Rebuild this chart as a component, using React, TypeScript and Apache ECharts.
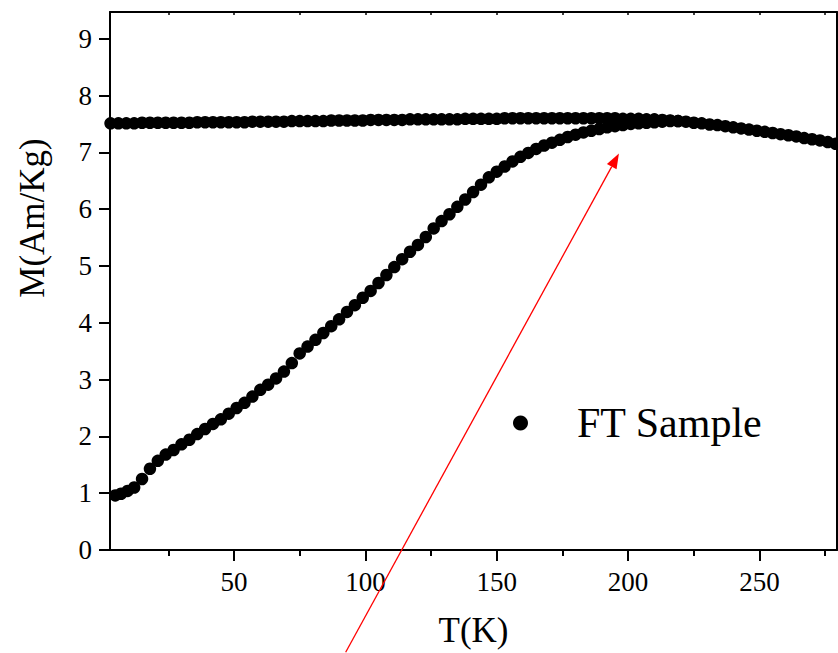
import React, { useEffect, useRef } from "react";
import * as echarts from "echarts";

// Temperature (K) of each point of the field-cooled curve
const fcTemps = [
  3, 6, 9, 12, 15, 18, 21, 24, 27, 30,
  33, 36, 39, 42, 45, 48, 51, 54, 57, 60,
  63, 66, 69, 72, 75, 78, 81, 84, 87, 90,
  93, 96, 99, 102, 105, 108, 111, 114, 117, 120,
  123, 126, 129, 132, 135, 138, 141, 144, 147, 150,
  153, 156, 159, 162, 165, 168, 171, 174, 177, 180,
  183, 186, 189, 192, 195, 198, 201, 204, 207, 210,
  213, 216, 219, 222, 225, 228, 231, 234, 237, 240,
  243, 246, 249, 252, 255, 258, 261, 264, 267, 270,
  273, 276, 279,
];
// Magnetisation (Am/Kg) of the field-cooled curve
const fcMoment = [
  7.51, 7.51, 7.51, 7.51, 7.52, 7.52, 7.52, 7.52, 7.52, 7.52,
  7.52, 7.53, 7.53, 7.53, 7.53, 7.53, 7.53, 7.53, 7.54, 7.54,
  7.54, 7.54, 7.54, 7.55, 7.55, 7.55, 7.55, 7.55, 7.56, 7.56,
  7.56, 7.56, 7.56, 7.57, 7.57, 7.57, 7.57, 7.57, 7.58, 7.58,
  7.58, 7.58, 7.58, 7.58, 7.58, 7.59, 7.59, 7.59, 7.59, 7.59,
  7.6, 7.6, 7.6, 7.6, 7.6, 7.6, 7.6, 7.6, 7.6, 7.6,
  7.6, 7.6, 7.6, 7.6, 7.6, 7.59, 7.59, 7.59, 7.58, 7.58,
  7.57, 7.56, 7.55, 7.54, 7.52, 7.51, 7.49, 7.48, 7.46, 7.44,
  7.42, 7.4, 7.38, 7.36, 7.34, 7.32, 7.3, 7.28, 7.25, 7.23,
  7.21, 7.18, 7.15,
];
// Temperature (K) of each point of the zero-field-cooled curve
const zfcTemps = [
  4.8, 7, 9.5, 12, 15, 18, 21, 24, 27, 30,
  33, 36, 39, 42, 45, 48, 51, 54, 57, 60,
  63, 66, 69, 72, 75, 78, 81, 84, 87, 90,
  93, 96, 99, 102, 105, 108, 111, 114, 117, 120,
  123, 126, 129, 132, 135, 138, 141, 144, 147, 150,
  153, 156, 159, 162, 165, 168, 171, 174, 177, 180,
  183, 186, 189, 192, 195, 198, 201, 204, 207, 210,
  213, 216, 219,
];
// Magnetisation (Am/Kg) of the zero-field-cooled curve
const zfcMoment = [
  0.96, 0.99, 1.04, 1.1, 1.25, 1.43, 1.57, 1.68, 1.76, 1.86,
  1.94, 2.04, 2.13, 2.22, 2.3, 2.4, 2.5, 2.59, 2.7, 2.82,
  2.91, 3.02, 3.14, 3.29, 3.46, 3.58, 3.7, 3.82, 3.94, 4.06,
  4.19, 4.31, 4.44, 4.56, 4.7, 4.84, 4.98, 5.12, 5.25, 5.37,
  5.51, 5.66, 5.79, 5.91, 6.04, 6.17, 6.3, 6.43, 6.56, 6.66,
  6.75, 6.84, 6.92, 6.99, 7.06, 7.12, 7.17, 7.22, 7.27, 7.31,
  7.35, 7.38, 7.41, 7.44, 7.46, 7.48, 7.5, 7.51, 7.52, 7.53,
  7.54, 7.55, 7.55,
];

const xMajorTicks = [50, 100, 150, 200, 250];
const xMinorTicks = [25, 75, 125, 175, 225, 275];
const xTopTicks = [25, 50, 75, 100, 125, 150, 175, 200, 225, 250, 275];
const yTicks = [0, 1, 2, 3, 4, 5, 6, 7, 8, 9];

const seriesName = "FT Sample";
const xAxisTitle = "T(K)";
const yAxisTitle = "M(Am/Kg)";

// Annotation arrow, in data coordinates (T, M)
const arrowFrom = [92.5, -1.8];
const arrowTo = [196.5, 6.98];

const X_MIN = 2.8;
const X_MAX = 279.5;
const Y_MIN = 0;
const Y_MAX = 9.47;

export default function App() {
  const ref = useRef<HTMLDivElement>(null);

  useEffect(() => {
    document.body.style.margin = "0";
    const chart = echarts.init(ref.current!, null, { renderer: "svg" });
    const font = "'Liberation Serif', 'Times New Roman', serif";
    const pair = (t: number[], m: number[]) => t.map((v, i) => [v, m[i]]);
    const black = "#000";

    chart.setOption({
      animation: false,
      grid: { left: 110, right: 1, top: 12, bottom: 102 },
      legend: {
        data: [{ name: seriesName, icon: "circle" }],
        left: 508,
        top: 397,
        itemWidth: 15,
        itemHeight: 15,
        textStyle: {
          fontSize: 42,
          fontFamily: font,
          color: black,
          padding: [0, 0, 0, 44],
        },
      },
      xAxis: [
        {
          type: "value",
          min: X_MIN,
          max: X_MAX,
          position: "bottom",
          axisLine: { show: true, onZero: false, lineStyle: { color: black, width: 2 } },
          axisTick: {
            show: true,
            length: 11,
            lineStyle: { color: black, width: 2 },
            customValues: xMajorTicks,
          },
          axisLabel: {
            customValues: xMajorTicks,
            margin: 18,
            fontSize: 27,
            fontFamily: font,
            color: black,
          },
          splitLine: { show: false },
          name: xAxisTitle,
          nameLocation: "middle",
          nameGap: 63,
          nameTextStyle: { fontSize: 35, fontFamily: font, color: black, lineHeight: 35 },
        },
        {
          type: "value",
          min: X_MIN,
          max: X_MAX,
          position: "bottom",
          offset: 0,
          axisLine: { show: false, onZero: false },
          axisTick: {
            show: true,
            length: 6,
            lineStyle: { color: black, width: 2 },
            customValues: xMinorTicks,
          },
          axisLabel: { show: false },
          splitLine: { show: false },
        },
        {
          type: "value",
          min: X_MIN,
          max: X_MAX,
          position: "top",
          axisLine: { show: true, onZero: false, lineStyle: { color: black, width: 2 } },
          axisTick: {
            show: true,
            inside: true,
            length: 3,
            lineStyle: { color: black, width: 1.5 },
            customValues: xTopTicks,
          },
          axisLabel: { show: false },
          splitLine: { show: false },
        },
      ],
      yAxis: [
        {
          type: "value",
          min: Y_MIN,
          max: Y_MAX,
          position: "left",
          axisLine: { show: true, onZero: false, lineStyle: { color: black, width: 2 } },
          axisTick: {
            show: true,
            length: 11,
            lineStyle: { color: black, width: 2 },
            customValues: yTicks,
          },
          axisLabel: {
            customValues: yTicks,
            margin: 18,
            fontSize: 27,
            fontFamily: font,
            color: black,
          },
          splitLine: { show: false },
        },
        {
          type: "value",
          min: Y_MIN,
          max: Y_MAX,
          position: "right",
          axisLine: { show: true, onZero: false, lineStyle: { color: black, width: 2 } },
          axisTick: { show: false },
          axisLabel: { show: false },
          splitLine: { show: false },
        },
      ],
      series: [
        {
          name: seriesName,
          type: "scatter",
          xAxisIndex: 0,
          yAxisIndex: 0,
          symbol: "circle",
          symbolSize: 12.5,
          itemStyle: { color: black, opacity: 1 },
          data: pair(fcTemps, fcMoment),
        },
        {
          name: seriesName,
          type: "scatter",
          xAxisIndex: 0,
          yAxisIndex: 0,
          symbol: "circle",
          symbolSize: 12.5,
          itemStyle: { color: black, opacity: 1 },
          data: pair(zfcTemps, zfcMoment),
        },
      ],
    });

    const p0 = chart.convertToPixel({ xAxisIndex: 0, yAxisIndex: 0 }, arrowFrom) as number[];
    const p1 = chart.convertToPixel({ xAxisIndex: 0, yAxisIndex: 0 }, arrowTo) as number[];
    const dx = p1[0] - p0[0];
    const dy = p1[1] - p0[1];
    const len = Math.sqrt(dx * dx + dy * dy);
    const ux = dx / len;
    const uy = dy / len;
    const headLen = 15;
    const headHalf = 5.5;
    const bx = p1[0] - ux * headLen;
    const by = p1[1] - uy * headLen;

    chart.setOption({
      graphic: [
        {
          type: "line",
          shape: { x1: p0[0], y1: p0[1], x2: bx, y2: by },
          style: { stroke: "#ff0000", lineWidth: 1.3 },
          z: 100,
        },
        {
          type: "polygon",
          shape: {
            points: [
              [p1[0], p1[1]],
              [bx - uy * headHalf, by + ux * headHalf],
              [bx + uy * headHalf, by - ux * headHalf],
            ],
          },
          style: { fill: "#ff0000" },
          z: 100,
        },
        {
          type: "text",
          x: 32,
          y: 218,
          rotation: Math.PI / 2,
          style: {
            text: yAxisTitle,
            fontSize: 35,
            fontFamily: font,
            fill: black,
            align: "center",
            verticalAlign: "middle",
          },
        },
      ],
    });

    return () => chart.dispose();
  }, []);

  return <div ref={ref} style={{ width: 838, height: 653 }} />;
}
